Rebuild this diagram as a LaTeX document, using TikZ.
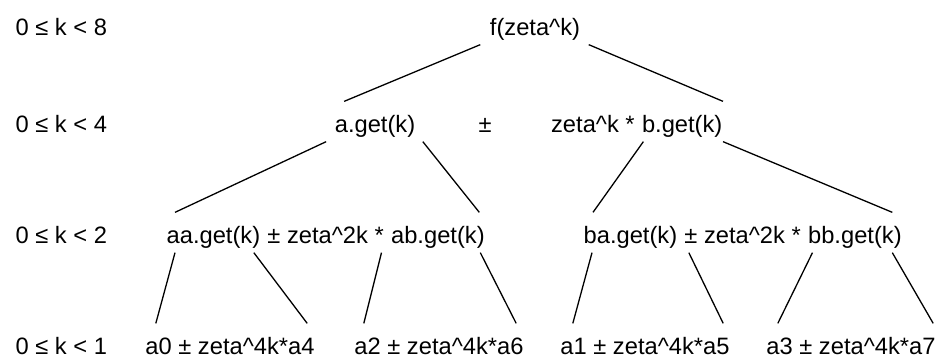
\documentclass[tikz,border=0pt]{standalone}
\usepackage{fontspec}
\setmainfont{Liberation Sans}
\usepackage{tikz}
\usetikzlibrary{positioning}

\tikzset{
	term/.style={inner sep=0pt, text height=30pt, text depth=9pt},
	leaf/.style={term, text depth=0pt, anchor=base},
	krange/.style={inner sep=0pt, anchor=base west}
}

\begin{document}
\begin{tikzpicture}[x=1pt, y=-1pt, font=\fontsize{23.7}{28}\selectfont, line width=1.3pt]
	\useasboundingbox (0, 0) rectangle (941, 359);
	% ranges of k on each level
	\node [krange] (r0) at (15, 35) {0 ≤ k < 8};
	\node [krange] (r1) at (15, 132) {0 ≤ k < 4};
	\node [krange] (r2) at (15, 243) {0 ≤ k < 2};
	\node [krange] (r3) at (15, 354) {0 ≤ k < 1};
	% level 0 and 1
	\node [term, anchor=base] (f) at (535, 35) {f(zeta\textasciicircum k)};
	\node [term, anchor=base] (aget) at (375, 132) {a.get(k)};
	\node [term, anchor=base] (pm) at (485, 132) {±};
	\node [term, anchor=base east] (bget) at (723, 132) {b.get(k)};
	\node [term, left=6pt of bget] (zk) {zeta\textasciicircum k *};
	% level 2
	\node [term, anchor=base west] (aaget) at (166, 243) {aa.get(k)};
	\node [term, right=6pt of aaget] (mula) {± zeta\textasciicircum 2k *};
	\node [term, right=6pt of mula] (abget) {ab.get(k)};
	\node [term, anchor=base west] (baget) at (583, 243) {ba.get(k)};
	\node [term, right=6pt of baget] (mulb) {± zeta\textasciicircum 2k *};
	\node [term, right=6pt of mulb] (bbget) {bb.get(k)};
	% level 3
	\node [leaf] (leaf0) at (230, 354) {a0 ± zeta\textasciicircum 4k*a4};
	\node [leaf] (leaf2) at (439, 354) {a2 ± zeta\textasciicircum 4k*a6};
	\node [leaf] (leaf1) at (645, 354) {a1 ± zeta\textasciicircum 4k*a5};
	\node [leaf] (leaf3) at (851, 354) {a3 ± zeta\textasciicircum 4k*a7};
	% branches
	\draw ([xshift=-9pt]f.south west) -- ([xshift=10pt]aget.north west);
	\draw ([xshift=8pt]f.south east) -- (bget.north east);
	\draw ([xshift=-8pt]aget.south west) -- ([xshift=9pt]aaget.north west);
	\draw ([xshift=7pt]aget.south east) -- ([xshift=-6pt]abget.north east);
	\draw ([xshift=2pt]bget.south west) -- ([xshift=10pt]baget.north west);
	\draw (bget.south east) -- ([xshift=-10pt]bbget.north east);
	\draw ([xshift=9pt]aaget.south west) -- ([xshift=11pt]leaf0.north west);
	\draw ([xshift=-7pt]aaget.south east) -- ([xshift=-8pt]leaf0.north east);
	\draw ([xshift=-9pt]abget.south west) -- ([xshift=10pt]leaf2.north west);
	\draw ([xshift=-5pt]abget.south east) -- ([xshift=-8pt]leaf2.north east);
	\draw ([xshift=9pt]baget.south west) -- ([xshift=13pt]leaf1.north west);
	\draw ([xshift=11pt]baget.south east) -- ([xshift=-7pt]leaf1.north east);
	\draw ([xshift=5pt]bbget.south west) -- ([xshift=12pt]leaf3.north west);
	\draw ([xshift=-10pt]bbget.south east) -- ([xshift=-3pt]leaf3.north east);
\end{tikzpicture}
\end{document}
